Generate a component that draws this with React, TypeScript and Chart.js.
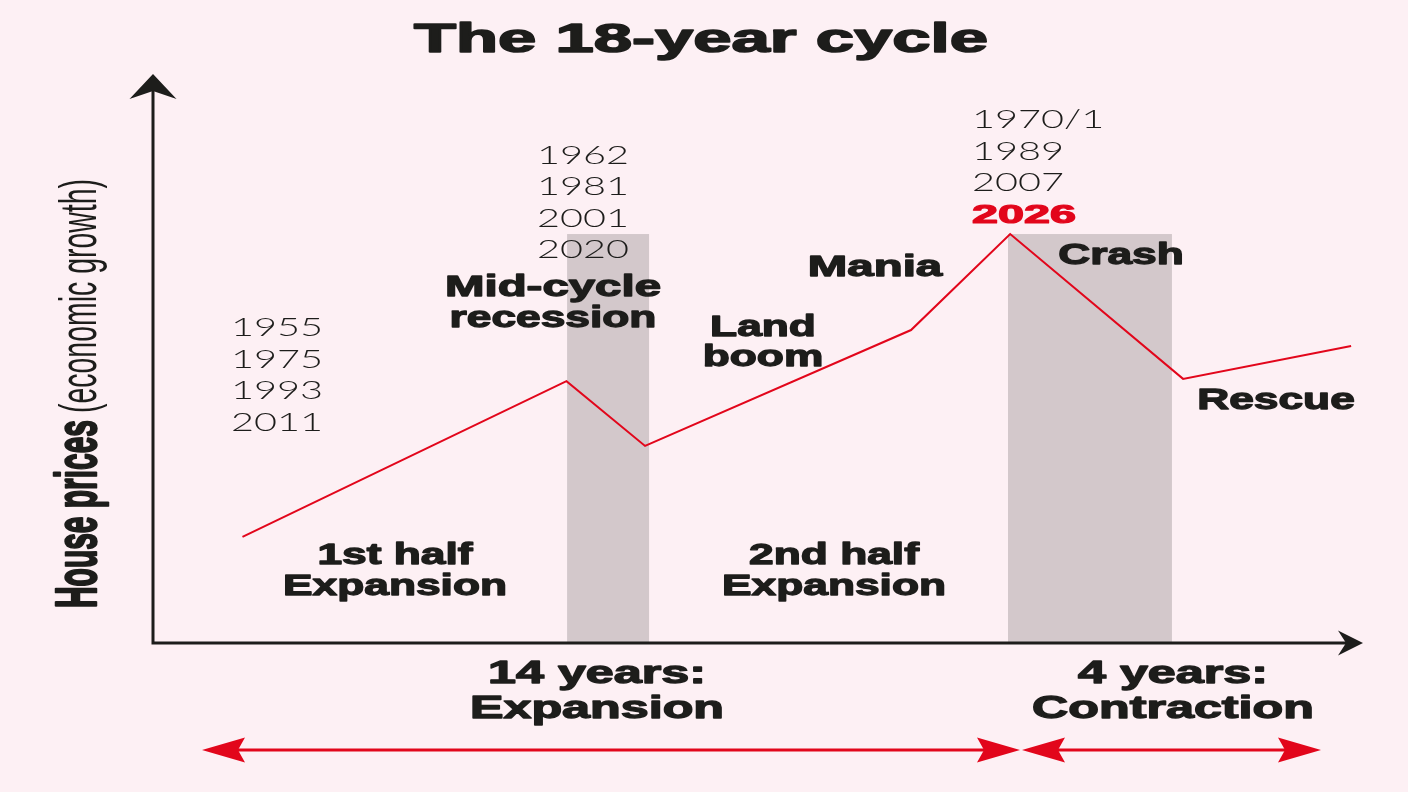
import React, { useEffect, useRef } from "react";
import { Chart, registerables } from "chart.js";

Chart.register(...registerables);

// ---- Data (schematic units: x = % along the time axis, y = % of the price axis) ----
const phaseX = [7.4, 34.2, 40.7, 62.7, 70.9, 85.2, 99.1];
const housePrice = [18.7, 46.1, 34.7, 55.1, 72.0, 46.5, 52.3];

const bandStart = [34.25, 70.72];
const bandEnd = [41.03, 84.28];
const bandTop = 72.0;

const titleText = "The 18-year cycle";
const yAxisTitleBold = "House prices";
const yAxisTitleLight = "(economic growth)";

const troughYears = ["1955", "1975", "1993", "2011"];
const midCycleYears = ["1962", "1981", "2001", "2020"];
const peakYears = ["1970/1", "1989", "2007"];
const nextPeakYear = "2026";

const midCycleLabel = ["Mid-cycle", "recession"];
const landBoomLabel = ["Land", "boom"];
const maniaLabel = "Mania";
const crashLabel = "Crash";
const rescueLabel = "Rescue";
const firstHalfLabel = ["1st half", "Expansion"];
const secondHalfLabel = ["2nd half", "Expansion"];
const expansionSpan = ["14 years:", "Expansion"];
const contractionSpan = ["4 years:", "Contraction"];

// ---- Styles ----
const BG = "#fdf0f4";
const INK = "#1d1d1b";
const RED = "#e2061b";
const BAND = "#d3c8cb";
const HEAVY = "bold 30px 'Liberation Sans', Arial, sans-serif";
const HEAVY_BOTTOM = "bold 31px 'Liberation Sans', Arial, sans-serif";
const TITLE = "bold 41px 'Liberation Sans', Arial, sans-serif";
const YEAR = "300 26px Lato, 'Liberation Sans', sans-serif";
const YEAR_BOLD = "bold 26px 'Liberation Sans', Arial, sans-serif";

function scaleFor(ctx: CanvasRenderingContext2D, font: string, ref: string, width: number) {
  ctx.save();
  ctx.font = font;
  const w = ctx.measureText(ref).width;
  ctx.restore();
  return width / w;
}

function drawText(
  ctx: CanvasRenderingContext2D,
  text: string,
  x: number,
  y: number,
  font: string,
  color: string,
  sx: number,
  align: CanvasTextAlign,
  stroke = 0
) {
  ctx.save();
  ctx.translate(x, y);
  ctx.scale(sx, 1);
  ctx.font = font;
  ctx.fillStyle = color;
  ctx.textAlign = align;
  ctx.textBaseline = "alphabetic";
  ctx.fillText(text, 0, 0);
  if (stroke > 0) {
    ctx.strokeStyle = color;
    ctx.lineWidth = stroke;
    ctx.lineJoin = "round";
    ctx.strokeText(text, 0, 0);
  }
  ctx.restore();
}

function arrowHead(
  ctx: CanvasRenderingContext2D,
  tipX: number,
  tipY: number,
  dirX: number,
  dirY: number,
  len: number,
  half: number,
  notch: number,
  color: string
) {
  const px = -dirY;
  const py = dirX;
  ctx.save();
  ctx.fillStyle = color;
  ctx.beginPath();
  ctx.moveTo(tipX, tipY);
  ctx.lineTo(tipX - dirX * len + px * half, tipY - dirY * len + py * half);
  ctx.lineTo(tipX - dirX * notch, tipY - dirY * notch);
  ctx.lineTo(tipX - dirX * len - px * half, tipY - dirY * len - py * half);
  ctx.closePath();
  ctx.fill();
  ctx.restore();
}

function doubleArrow(ctx: CanvasRenderingContext2D, x1: number, x2: number, y: number) {
  ctx.save();
  ctx.strokeStyle = RED;
  ctx.lineWidth = 3;
  ctx.beginPath();
  ctx.moveTo(x1 + 20, y);
  ctx.lineTo(x2 - 20, y);
  ctx.stroke();
  ctx.restore();
  arrowHead(ctx, x1, y, -1, 0, 43, 12.5, 36, RED);
  arrowHead(ctx, x2, y, 1, 0, 43, 12.5, 36, RED);
}

const decorPlugin = {
  id: "decor",
  beforeDraw(chart: any) {
    const ctx: CanvasRenderingContext2D = chart.ctx;
    ctx.save();
    ctx.fillStyle = BG;
    ctx.fillRect(0, 0, chart.width, chart.height);
    ctx.restore();
  },
  beforeDatasetsDraw(chart: any) {
    const ctx: CanvasRenderingContext2D = chart.ctx;
    const xs = chart.scales.x;
    const ys = chart.scales.y;
    ctx.save();
    ctx.fillStyle = BAND;
    for (let i = 0; i < bandStart.length; i++) {
      const l = xs.getPixelForValue(bandStart[i]);
      const r = xs.getPixelForValue(bandEnd[i]);
      const t = ys.getPixelForValue(bandTop);
      const b = ys.getPixelForValue(0);
      ctx.fillRect(l, t, r - l, b - t);
    }
    ctx.restore();
  },
  afterDatasetsDraw(chart: any) {
    const ctx: CanvasRenderingContext2D = chart.ctx;
    const xs = chart.scales.x;
    const ys = chart.scales.y;
    const x0 = xs.getPixelForValue(0);
    const y0 = ys.getPixelForValue(0);
    const xEnd = xs.getPixelForValue(100);
    const yEnd = ys.getPixelForValue(100);

    // axes
    ctx.save();
    ctx.strokeStyle = INK;
    ctx.lineWidth = 3;
    ctx.beginPath();
    ctx.moveTo(x0, yEnd + 15);
    ctx.lineTo(x0, y0);
    ctx.lineTo(xEnd - 15, y0);
    ctx.stroke();
    ctx.restore();
    arrowHead(ctx, x0, yEnd - 1, 0, -1, 25, 23.5, 17, INK);
    arrowHead(ctx, xEnd + 1, y0, 1, 0, 25, 12.5, 17, INK);

    // title
    const sTitle = scaleFor(ctx, TITLE, titleText, 574);
    drawText(ctx, titleText, 701, 52, TITLE, INK, sTitle, "center", 1.6);

    // y-axis title (rotated)
    ctx.save();
    ctx.translate(96, 608);
    ctx.rotate(-Math.PI / 2);
    const fBold = "bold 57px 'Liberation Sans', Arial, sans-serif";
    const fLight = "52px 'Liberation Sans', Arial, sans-serif";
    const sB = scaleFor(ctx, fBold, yAxisTitleBold, 188);
    drawText(ctx, yAxisTitleBold, 0, 0, fBold, INK, sB, "left", 2.5);
    const sL = scaleFor(ctx, fLight, yAxisTitleLight, 234);
    drawText(ctx, yAxisTitleLight, 195, 0, fLight, INK, sL, "left");
    ctx.restore();

    // years
    const sYear = scaleFor(ctx, YEAR, "1962", 92);
    troughYears.forEach((t, i) => drawText(ctx, t, 231, 336 + i * 31.5, YEAR, INK, sYear, "left"));
    midCycleYears.forEach((t, i) => drawText(ctx, t, 537, 164 + i * 31.3, YEAR, INK, sYear, "left"));
    peakYears.forEach((t, i) => drawText(ctx, t, 972, 128 + i * 31.5, YEAR, INK, sYear, "left"));
    const sRed = scaleFor(ctx, YEAR_BOLD, nextPeakYear, 104);
    drawText(ctx, nextPeakYear, 972, 223, YEAR_BOLD, RED, sRed, "left", 1.2);

    // phase labels
    const sH = scaleFor(ctx, HEAVY, "Expansion", 224);
    const st = 1.3;
    drawText(ctx, midCycleLabel[0], 553, 296, HEAVY, INK, sH * 1.07, "center", st);
    drawText(ctx, midCycleLabel[1], 553, 327, HEAVY, INK, sH, "center", st);
    drawText(ctx, landBoomLabel[0], 763, 336, HEAVY, INK, sH, "center", st);
    drawText(ctx, landBoomLabel[1], 763, 366, HEAVY, INK, sH, "center", st);
    drawText(ctx, maniaLabel, 875, 276, HEAVY, INK, sH * 1.07, "center", st);
    drawText(ctx, crashLabel, 1121, 264, HEAVY, INK, sH, "center", st);
    drawText(ctx, rescueLabel, 1276, 409, HEAVY, INK, sH, "center", st);
    drawText(ctx, firstHalfLabel[0], 395, 564, HEAVY, INK, sH, "center", st);
    drawText(ctx, firstHalfLabel[1], 395, 595, HEAVY, INK, sH, "center", st);
    drawText(ctx, secondHalfLabel[0], 834, 564, HEAVY, INK, sH, "center", st);
    drawText(ctx, secondHalfLabel[1], 834, 595, HEAVY, INK, sH, "center", st);

    const sHB = scaleFor(ctx, HEAVY_BOTTOM, "Expansion", 254);
    drawText(ctx, expansionSpan[0], 597, 683, HEAVY_BOTTOM, INK, sHB, "center", st);
    drawText(ctx, expansionSpan[1], 597, 718, HEAVY_BOTTOM, INK, sHB, "center", st);
    drawText(ctx, contractionSpan[0], 1173, 683, HEAVY_BOTTOM, INK, sHB, "center", st);
    drawText(ctx, contractionSpan[1], 1173, 718, HEAVY_BOTTOM, INK, sHB, "center", st);

    // span arrows
    doubleArrow(ctx, 202, 1020, 750);
    doubleArrow(ctx, 1022, 1321, 750);
  },
};

export default function App() {
  const ref = useRef<HTMLCanvasElement | null>(null);
  useEffect(() => {
    document.body.style.margin = "0";
    document.body.style.background = BG;
    const canvas = ref.current;
    if (!canvas) return;
    const chart = new Chart(canvas, {
      type: "line",
      data: {
        datasets: [
          {
            label: "House prices",
            data: phaseX.map((x, i) => ({ x, y: housePrice[i] })),
            borderColor: RED,
            borderWidth: 2,
            pointRadius: 0,
            tension: 0,
            fill: false,
            clip: false as any,
          },
        ],
      },
      options: {
        responsive: false,
        animation: false,
        devicePixelRatio: 1,
        layout: { padding: { left: 153, right: 46, top: 75, bottom: 149 } },
        scales: {
          x: { type: "linear", min: 0, max: 100, display: false },
          y: { type: "linear", min: 0, max: 100, display: false },
        },
        plugins: {
          legend: { display: false },
          tooltip: { enabled: false },
          title: { display: false },
        },
      },
      plugins: [decorPlugin],
    });
    return () => chart.destroy();
  }, []);
  return (
    <div style={{ width: 1408, height: 792, background: BG }}>
      <canvas ref={ref} width={1408} height={792} style={{ display: "block" }} />
    </div>
  );
}
